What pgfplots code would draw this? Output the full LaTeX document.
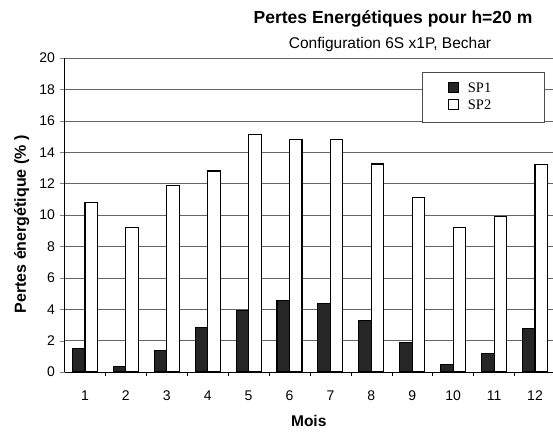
\documentclass[border=0pt]{standalone}
\usepackage{pgfplots}
\pgfplotsset{compat=1.18}
\usepackage{fontspec}
\setmainfont{Liberation Sans}
\newfontfamily\seriffont{Liberation Serif}
\begin{document}
\begin{tikzpicture}[x=1pt,y=1pt]
\useasboundingbox (0,0) rectangle (553,433);
\begin{axis}[
  at={(64.5pt,61pt)}, anchor=south west,
  scale only axis, width=488.5pt, height=314pt,
  ybar=0pt, bar width=12.5pt,
  xmin=0.5, xmax=12.44, ymin=0, ymax=20,
  axis x line*=bottom, axis y line*=left,
  axis line style={line width=0.8pt, black},
  xtick={1,...,12},
  major x tick style={draw=none},
  minor xtick={1.5,2.5,...,11.5},
  minor x tick style={black, line width=0.6pt},
  minor tick length=4pt,
  ytick={0,2,...,20},
  major tick length=4pt,
  tick align=outside,
  ymajorgrids,
  grid style={black!60, line width=0.5pt},
  tick label style={font=\fontsize{14}{16}\selectfont},
  /pgf/number format/assume math mode=true,
  yticklabel style={xshift=-2pt},
  xticklabel style={yshift=-11pt},
  xlabel={\bfseries Mois},
  ylabel={\bfseries Pertes énergétique (\% )},
  xlabel style={font=\fontsize{15.5}{18}\selectfont, at={(axis description cs:0.5,0)}, anchor=base, yshift=-54pt},
  ylabel style={font=\fontsize{16}{18}\selectfont, at={(axis description cs:-0.0876,0.47)}, anchor=center, rotate=0},
  legend style={at={(0.731,0.956)}, anchor=north west, draw=black!70, line width=0.6pt,
    fill=white, inner xsep=0pt, inner ysep=9pt, row sep=2pt,
    font=\seriffont\fontsize{14.5}{16}\selectfont, legend cell align=left, cells={anchor=base west}},
  legend image code/.code={\pgfpathrectangle{\pgfpoint{0pt}{-1pt}}{\pgfpoint{44pt}{12pt}}\pgfusepath{use as bounding box}\draw[#1, line width=0.9pt] (27pt,0pt) rectangle (37pt,10pt);},
]
\addplot[fill=black!85, draw=black, line width=1.1pt] coordinates {
(1,1.47) (2,0.37) (3,1.39) (4,2.82) (5,3.93) (6,4.53)
(7,4.38) (8,3.29) (9,1.86) (10,0.47) (11,1.15) (12,2.76)};
\addplot[fill=white, draw=black, line width=1.1pt] coordinates {
(1,10.8) (2,9.2) (3,11.9) (4,12.8) (5,15.1) (6,14.8)
(7,14.8) (8,13.25) (9,11.1) (10,9.2) (11,9.9) (12,13.2)};
\legend{\makebox[74pt][l]{SP1},\makebox[74pt][l]{SP2\rule[-13pt]{0pt}{1pt}}}
\end{axis}
\node[anchor=base, font=\bfseries\fontsize{17.5}{20}\selectfont] at (393,409) {Pertes Energétiques pour h=20 m};
\node[anchor=base, font=\fontsize{15.5}{18}\selectfont] at (390,384) {Configuration 6S x1P, Bechar};
\end{tikzpicture}
\end{document}
